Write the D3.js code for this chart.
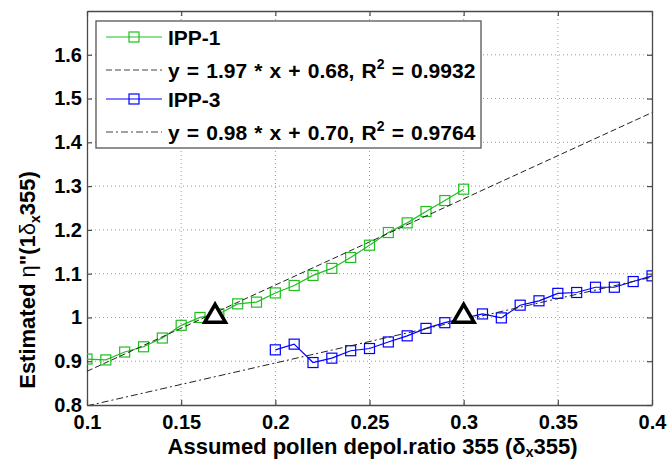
<!DOCTYPE html>
<html>
<head>
<meta charset="utf-8">
<script src="https://cdn.jsdelivr.net/npm/d3@7"></script>
<style>
  html, body { margin: 0; padding: 0; background: #fff; }
  svg text { font-family: "Liberation Sans", Arial, sans-serif; font-weight: bold; fill: #000; }
</style>
</head>
<body>
<svg id="chart" width="669" height="460"></svg>
<script>
// Assumed pollen depolarization ratios and estimated η'' values
const ipp1X = [0.10, 0.11, 0.12, 0.13, 0.14, 0.15, 0.16, 0.17, 0.18, 0.19, 0.20,
               0.21, 0.22, 0.23, 0.24, 0.25, 0.26, 0.27, 0.28, 0.29, 0.30];
const ipp1Y = [0.905, 0.903, 0.921, 0.933, 0.953, 0.982, 1.000, 1.008, 1.031, 1.035, 1.056,
               1.073, 1.096, 1.112, 1.137, 1.165, 1.194, 1.216, 1.242, 1.267, 1.293];
const ipp3X = [0.20, 0.21, 0.22, 0.23, 0.24, 0.25, 0.26, 0.27, 0.28, 0.29, 0.30,
               0.31, 0.32, 0.33, 0.34, 0.35, 0.36, 0.37, 0.38, 0.39, 0.40];
const ipp3Y = [0.926, 0.939, 0.897, 0.907, 0.924, 0.929, 0.944, 0.958, 0.975, 0.988, 0.998,
               1.008, 0.999, 1.028, 1.038, 1.055, 1.057, 1.069, 1.069, 1.082, 1.095];

// Linear fits (slope, intercept, R²)
const fit1 = [1.97, 0.68, 0.9932];
const fit3 = [0.98, 0.70, 0.9764];
const fitRange = [0.1, 0.4];

// Selected points marked with triangles
const markX = [0.168, 0.30];
const markY = [1.005, 1.005];

const xTicks = [0.1, 0.15, 0.2, 0.25, 0.3, 0.35, 0.4];
const xTickLabels = ["0.1", "0.15", "0.2", "0.25", "0.3", "0.35", "0.4"];
const yTicks = [0.8, 0.9, 1.0, 1.1, 1.2, 1.3, 1.4, 1.5, 1.6];
const yTickLabels = ["0.8", "0.9", "1", "1.1", "1.2", "1.3", "1.4", "1.5", "1.6"];

const seriesNames = ["IPP-1", "IPP-3"];

const green = "#1fbf1f";
const blue = "#0000ff";

const svg = d3.select("#chart");
const L = 87, R = 652, T = 11, B = 405;

const x = d3.scaleLinear().domain([0.1, 0.4]).range([L, R]);
const y = d3.scaleLinear().domain([0.8, 1.7]).range([B, T]);

svg.append("defs").append("clipPath").attr("id", "plotClip")
  .append("rect").attr("x", L).attr("y", T).attr("width", R - L).attr("height", B - T);

// grid
const grid = svg.append("g");
grid.selectAll("line.gx").data(xTicks.slice(1, -1)).join("line")
  .attr("x1", d => x(d)).attr("x2", d => x(d)).attr("y1", T).attr("y2", B)
  .attr("stroke", "#9a9a9a").attr("stroke-width", 1).attr("stroke-dasharray", "1,3");
grid.selectAll("line.gy").data(yTicks.slice(1)).join("line")
  .attr("y1", d => y(d)).attr("y2", d => y(d)).attr("x1", L).attr("x2", R)
  .attr("stroke", "#9a9a9a").attr("stroke-width", 1).attr("stroke-dasharray", "1,3");

// axes (ticks inside, box on)
const tickLen = 5;
const fmtX = (d, i) => xTickLabels[i];
const fmtY = (d, i) => yTickLabels[i];
const axB = svg.append("g").attr("transform", `translate(0,${B})`)
  .call(d3.axisBottom(x).tickValues(xTicks).tickFormat(fmtX).tickSizeInner(-tickLen).tickSizeOuter(0).tickPadding(10));
const axT = svg.append("g").attr("transform", `translate(0,${T})`)
  .call(d3.axisTop(x).tickValues(xTicks).tickFormat("").tickSizeInner(-tickLen).tickSizeOuter(0));
const axL = svg.append("g").attr("transform", `translate(${L},0)`)
  .call(d3.axisLeft(y).tickValues(yTicks).tickFormat(fmtY).tickSizeInner(-tickLen).tickSizeOuter(0).tickPadding(5));
const axR = svg.append("g").attr("transform", `translate(${R},0)`)
  .call(d3.axisRight(y).tickValues(yTicks).tickFormat("").tickSizeInner(-tickLen).tickSizeOuter(0));
[axB, axT, axL, axR].forEach(a => {
  a.select(".domain").attr("stroke", "#4a4a4a").attr("stroke-width", 1.3);
  a.selectAll(".tick line").attr("stroke", "#4a4a4a").attr("stroke-width", 1.2);
  a.selectAll("text").attr("font-size", 20).attr("font-family", null).attr("fill", "#000");
});

const plot = svg.append("g").attr("clip-path", "url(#plotClip)");
const line = d3.line().x(d => x(d[0])).y(d => y(d[1]));

function drawSeries(xs, ys, color) {
  const pts = xs.map((v, i) => [v, ys[i]]);
  plot.append("path").datum(pts).attr("d", line)
    .attr("fill", "none").attr("stroke", color).attr("stroke-width", 1.2);
  plot.selectAll(null).data(pts).join("rect")
    .attr("x", d => x(d[0]) - 5).attr("y", d => y(d[1]) - 5)
    .attr("width", 10).attr("height", 10)
    .attr("fill", "none").attr("stroke", color).attr("stroke-width", 1.2);
}
function drawFit(fit, dash) {
  const pts = fitRange.map(v => [v, fit[0] * v + fit[1]]);
  plot.append("path").datum(pts).attr("d", line)
    .attr("fill", "none").attr("stroke", "#222").attr("stroke-width", 1)
    .attr("stroke-dasharray", dash);
}

const dashFit1 = "6,3";
const dashFit3 = "7,3,2,3";
drawSeries(ipp1X, ipp1Y, green);
drawFit(fit1, dashFit1);
drawSeries(ipp3X, ipp3Y, blue);
drawFit(fit3, dashFit3);

// triangle markers
const tri = d3.symbol().type(d3.symbolTriangle).size(185);
svg.selectAll(null).data(markX.map((v, i) => [v, markY[i]])).join("path")
  .attr("d", tri)
  .attr("transform", d => `translate(${x(d[0])},${y(d[1]) + 1})`)
  .attr("fill", "#fff").attr("stroke", "#000").attr("stroke-width", 3.6)
  .attr("stroke-linejoin", "miter");

// legend
const lg = svg.append("g");
lg.append("rect").attr("x", 96).attr("y", 21).attr("width", 385).attr("height", 127)
  .attr("fill", "#fff").attr("stroke", "#555").attr("stroke-width", 1.3);
const sx0 = 106, sx1 = 162, tx = 168;
const rowsY = [37, 70, 99, 132];
function legendSeries(ry, color, name) {
  lg.append("line").attr("x1", sx0).attr("x2", sx1).attr("y1", ry).attr("y2", ry)
    .attr("stroke", color).attr("stroke-width", 1.2);
  lg.append("rect").attr("x", (sx0 + sx1) / 2 - 5).attr("y", ry - 5).attr("width", 10).attr("height", 10)
    .attr("fill", "none").attr("stroke", color).attr("stroke-width", 1.2);
  lg.append("text").attr("x", tx).attr("y", ry + 8).attr("font-size", 21).text(name);
}
function legendFit(ry, fit, dash) {
  lg.append("line").attr("x1", sx0).attr("x2", sx1).attr("y1", ry).attr("y2", ry)
    .attr("stroke", "#444").attr("stroke-width", 1).attr("stroke-dasharray", dash);
  const t = lg.append("text").attr("x", tx).attr("y", ry + 8).attr("font-size", 21)
    .attr("word-spacing", 1.3);
  t.append("tspan").text(`y = ${fit[0].toFixed(2)} * x + ${fit[1].toFixed(2)}, R`);
  t.append("tspan").attr("font-size", 14).attr("dy", -9).text("2");
  t.append("tspan").attr("dy", 9).text(` = ${fit[2].toFixed(4)}`);
}
legendSeries(rowsY[0], green, seriesNames[0]);
legendFit(rowsY[1], fit1, dashFit1);
legendSeries(rowsY[2], blue, seriesNames[1]);
legendFit(rowsY[3], fit3, dashFit3);

// axis titles
const xt = svg.append("text").attr("x", (L + R) / 2 + 3).attr("y", 454)
  .attr("text-anchor", "middle").attr("font-size", 22);
xt.append("tspan").text("Assumed pollen depol.ratio 355 (δ");
xt.append("tspan").attr("font-size", 14).attr("dy", 3).text("x");
xt.append("tspan").attr("dy", -3).text("355)");

const yt = svg.append("text").attr("transform", `translate(35,280) rotate(-90)`)
  .attr("text-anchor", "middle").attr("font-size", 22);
yt.append("tspan").text("Estimated ");
yt.append("tspan").attr("font-weight", "normal").text("η");
yt.append("tspan").text("\"(1");
yt.append("tspan").attr("font-weight", "normal").text("δ");
yt.append("tspan").attr("font-size", 14).attr("dy", 5).text("x");
yt.append("tspan").attr("dy", -5).text("355)");
</script>
</body>
</html>
